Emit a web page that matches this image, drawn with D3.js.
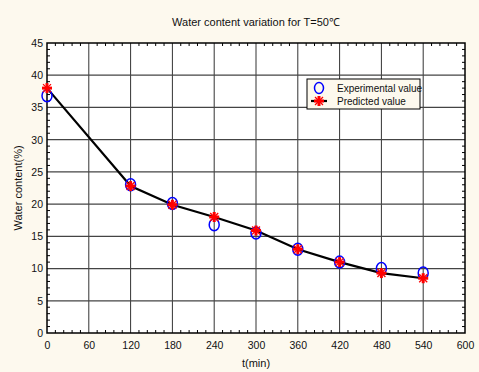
<!DOCTYPE html>
<html><head><meta charset="utf-8">
<script src="https://cdn.jsdelivr.net/npm/d3@7/dist/d3.min.js"></script>
<style>body{margin:0;background:#fdf9ee;}svg{display:block;}</style>
</head><body>
<svg id="c" width="479" height="372"></svg>
<script>
const times = [0, 120, 180, 240, 300, 360, 420, 480, 540];
const experimental = [36.8, 23.0, 20.1, 16.8, 15.5, 13.0, 11.0, 10.0, 9.3];
const predicted = [38.0, 22.8, 19.9, 18.0, 15.9, 13.0, 11.0, 9.3, 8.5];
const xTicks = [0, 60, 120, 180, 240, 300, 360, 420, 480, 540, 600];
const yTicks = [0, 5, 10, 15, 20, 25, 30, 35, 40, 45];
const title = "Water content variation for T=50\u2103";
const xLabel = "t(min)";
const yLabel = "Water content(%)";
const legendLabels = ["Experimental value", "Predicted value"];

const svg = d3.select("#c");
const font = "Liberation Sans, Arial, sans-serif";
const L = 47, R = 465, T = 43, B = 333;
const x = d3.scaleLinear().domain([0, 600]).range([L, R]);
const y = d3.scaleLinear().domain([0, 45]).range([B, T]);

svg.append("rect").attr("width", 479).attr("height", 372).attr("fill", "#fdf9ee");
svg.append("rect").attr("x", L).attr("y", T).attr("width", R - L).attr("height", B - T).attr("fill", "#fff");

// grid
svg.append("g").selectAll("line").data(xTicks.slice(1, -1)).join("line")
  .attr("x1", d => x(d)).attr("x2", d => x(d)).attr("y1", T).attr("y2", B)
  .attr("stroke", "#333").attr("stroke-width", 1);
svg.append("g").selectAll("line").data(yTicks.slice(1, -1)).join("line")
  .attr("y1", d => y(d)).attr("y2", d => y(d)).attr("x1", L).attr("x2", R)
  .attr("stroke", "#444").attr("stroke-width", 1.3);

// minor ticks (inside)
const xMinor = d3.range(0, 601, 12).filter(v => v % 60 !== 0);
const yMinor = d3.range(0, 46, 1).filter(v => v % 5 !== 0);
const tk = svg.append("g").attr("stroke", "#000").attr("stroke-width", 1);
xMinor.forEach(v => {
  tk.append("line").attr("x1", x(v)).attr("x2", x(v)).attr("y1", B).attr("y2", B - 3);
  tk.append("line").attr("x1", x(v)).attr("x2", x(v)).attr("y1", T).attr("y2", T + 3);
});
yMinor.forEach(v => {
  tk.append("line").attr("y1", y(v)).attr("y2", y(v)).attr("x1", L).attr("x2", L + 3);
  tk.append("line").attr("y1", y(v)).attr("y2", y(v)).attr("x1", R).attr("x2", R - 3);
});

// frame
svg.append("rect").attr("x", L).attr("y", T).attr("width", R - L).attr("height", B - T)
  .attr("fill", "none").attr("stroke", "#000").attr("stroke-width", 1.5);

// axes labels
const xa = svg.append("g").attr("transform", `translate(0,${B})`)
  .call(d3.axisBottom(x).tickValues(xTicks).tickSize(0).tickPadding(9));
xa.select(".domain").remove();
xa.selectAll("text").attr("font-family", font).attr("font-size", 10.5).attr("fill", "#111");
const ya = svg.append("g").attr("transform", `translate(${L},0)`)
  .call(d3.axisLeft(y).tickValues(yTicks).tickSize(0).tickPadding(4));
ya.select(".domain").remove();
ya.selectAll("text").attr("font-family", font).attr("font-size", 10.5).attr("fill", "#111");

svg.append("text").attr("x", (L + R) / 2).attr("y", 26).attr("text-anchor", "middle")
  .attr("font-family", font).attr("font-size", 11).attr("fill", "#111").text(title);
svg.append("text").attr("x", (L + R) / 2).attr("y", 367).attr("text-anchor", "middle")
  .attr("font-family", font).attr("font-size", 11).attr("fill", "#111").text(xLabel);
svg.append("text").attr("transform", `translate(22,${(T + B) / 2}) rotate(-90)`).attr("text-anchor", "middle")
  .attr("font-family", font).attr("font-size", 11).attr("fill", "#111").text(yLabel);

// line
const pts = times.map((t, i) => [t, predicted[i]]);
svg.append("path").datum(pts)
  .attr("d", d3.line().x(d => x(d[0])).y(d => y(d[1])))
  .attr("fill", "none").attr("stroke", "#000").attr("stroke-width", 2.2);

// experimental circles
svg.append("g").selectAll("ellipse").data(times.map((t, i) => [t, experimental[i]])).join("ellipse")
  .attr("cx", d => x(d[0])).attr("cy", d => y(d[1])).attr("rx", 5).attr("ry", 6)
  .attr("fill", "none").attr("stroke", "#0000ff").attr("stroke-width", 1.5);

// predicted stars
function star(g, cx, cy) {
  const s = g.append("g").attr("transform", `translate(${cx},${cy})`).attr("stroke", "#ff0000");
  s.append("line").attr("x1", -5).attr("x2", 5).attr("y1", 0).attr("y2", 0).attr("stroke-width", 3);
  s.append("line").attr("x1", 0).attr("x2", 0).attr("y1", -5).attr("y2", 5).attr("stroke-width", 3);
  s.append("line").attr("x1", -4).attr("x2", 4).attr("y1", -4).attr("y2", 4).attr("stroke-width", 1.3);
  s.append("line").attr("x1", -4).attr("x2", 4).attr("y1", 4).attr("y2", -4).attr("stroke-width", 1.3);
}
const sg = svg.append("g");
pts.forEach(d => star(sg, x(d[0]), y(d[1])));

// legend
const lg = svg.append("g");
lg.append("rect").attr("x", 307).attr("y", 79).attr("width", 113).attr("height", 30)
  .attr("fill", "#fdf9ee").attr("stroke", "#000").attr("stroke-width", 1);
lg.append("ellipse").attr("cx", 319).attr("cy", 88).attr("rx", 4.5).attr("ry", 5.5)
  .attr("fill", "none").attr("stroke", "#0000ff").attr("stroke-width", 1.5);
lg.append("line").attr("x1", 311).attr("x2", 327).attr("y1", 101).attr("y2", 101)
  .attr("stroke", "#000").attr("stroke-width", 2.2);
star(lg, 319, 101);
lg.append("text").attr("x", 337).attr("y", 92).attr("font-family", font).attr("font-size", 10)
  .attr("fill", "#111").text(legendLabels[0]);
lg.append("text").attr("x", 337).attr("y", 105).attr("font-family", font).attr("font-size", 10)
  .attr("fill", "#111").text(legendLabels[1]);
</script>
</body></html>
